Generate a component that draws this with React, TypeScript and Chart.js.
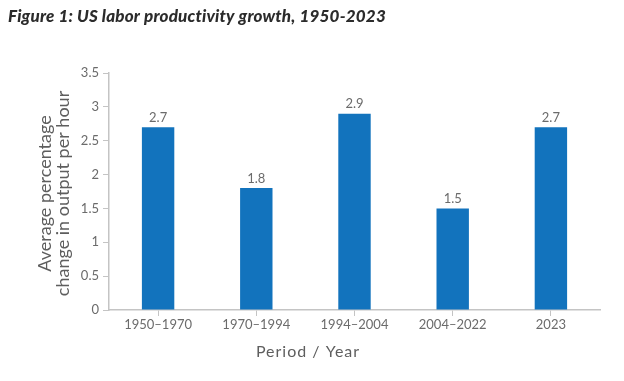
import React, { useEffect, useRef } from "react";
import { Chart, registerables } from "chart.js";

Chart.register(...registerables);

const categories = ["1950–1970", "1970–1994", "1994–2004", "2004–2022", "2023"];
const values = [2.7, 1.8, 2.9, 1.5, 2.7];
const yMax = 3.5;
const yStep = 0.5;
const titleText = "Figure 1: US labor productivity growth, 1950-2023";
const yTitleLines = ["Average percentage", "change in output per hour"];
const xTitleText = "Period / Year";

const FONT = "Lato, 'Noto Sans', sans-serif";
const BAR = "#1273BD";
const AXIS = "#c4c4c4";
const TXT = "#6b6b6b";

const textPlugin = {
  id: "textPlugin",
  afterDraw(chart: any) {
    const ctx = chart.ctx;
    const area = chart.chartArea;
    ctx.save();
    // Title
    ctx.fillStyle = "#2b2b2b";
    ctx.font = `italic 900 17px ${FONT}`;
    ctx.letterSpacing = "0.2px";
    ctx.textAlign = "left";
    ctx.textBaseline = "middle";
    ctx.fillText(titleText, 8, 17);
    ctx.letterSpacing = "0px";
    // Data labels
    const meta = chart.getDatasetMeta(0);
    ctx.fillStyle = TXT;
    ctx.font = `13px ${FONT}`;
    ctx.textAlign = "center";
    ctx.textBaseline = "bottom";
    meta.data.forEach((el: any, i: number) => {
      ctx.fillText(String(values[i]), el.x, el.y - 3);
    });
    // Y title
    ctx.fillStyle = "#5e5e5e";
    ctx.font = `18px ${FONT}`;
    ctx.textBaseline = "middle";
    const cy = (area.top + area.bottom) / 2 + 2;
    yTitleLines.forEach((line, i) => {
      ctx.save();
      ctx.translate(45 + i * 18, cy);
      ctx.rotate(-Math.PI / 2);
      ctx.fillText(line, 0, 0);
      ctx.restore();
    });
    // X title
    ctx.font = `16px ${FONT}`;
    ctx.letterSpacing = "1px";
    ctx.fillText(xTitleText, 308, 352);
    ctx.restore();
  },
};

export default function App() {
  const ref = useRef<HTMLCanvasElement>(null);
  useEffect(() => {
    const chart = new Chart(ref.current!, {
      type: "bar",
      data: {
        labels: categories,
        datasets: [
          {
            data: values,
            backgroundColor: BAR,
            categoryPercentage: 1,
            barPercentage: 0.33,
          },
        ],
      },
      options: {
        animation: false,
        responsive: false,
        layout: { padding: { top: 73, left: 0, right: 24, bottom: 0 } },
        plugins: { legend: { display: false }, tooltip: { enabled: false } },
        scales: {
          x: {
            grid: { drawOnChartArea: false, color: AXIS, tickLength: 6, offset: false },
            border: { color: AXIS, width: 1.5 },
            ticks: { color: TXT, font: { family: FONT, size: 13 }, padding: 1, maxRotation: 0 },
            afterFit(scale: any) {
              scale.height = 71;
            },
          },
          y: {
            min: 0,
            max: yMax,
            grid: { drawOnChartArea: false, color: AXIS, tickLength: 6 },
            border: { color: AXIS, width: 1.5 },
            ticks: {
              stepSize: yStep,
              color: TXT,
              font: { family: FONT, size: 13 },
              padding: 4,
              callback: (v: any) => String(Number(v)),
            },
            afterFit(scale: any) {
              scale.width = 109;
            },
          },
        },
      },
      plugins: [textPlugin],
    });
    return () => chart.destroy();
  }, []);
  return (
    <div style={{ position: "absolute", left: 0, top: 0, width: 624, height: 381, background: "#fff" }}>
      <canvas ref={ref} width={624} height={381} />
    </div>
  );
}
